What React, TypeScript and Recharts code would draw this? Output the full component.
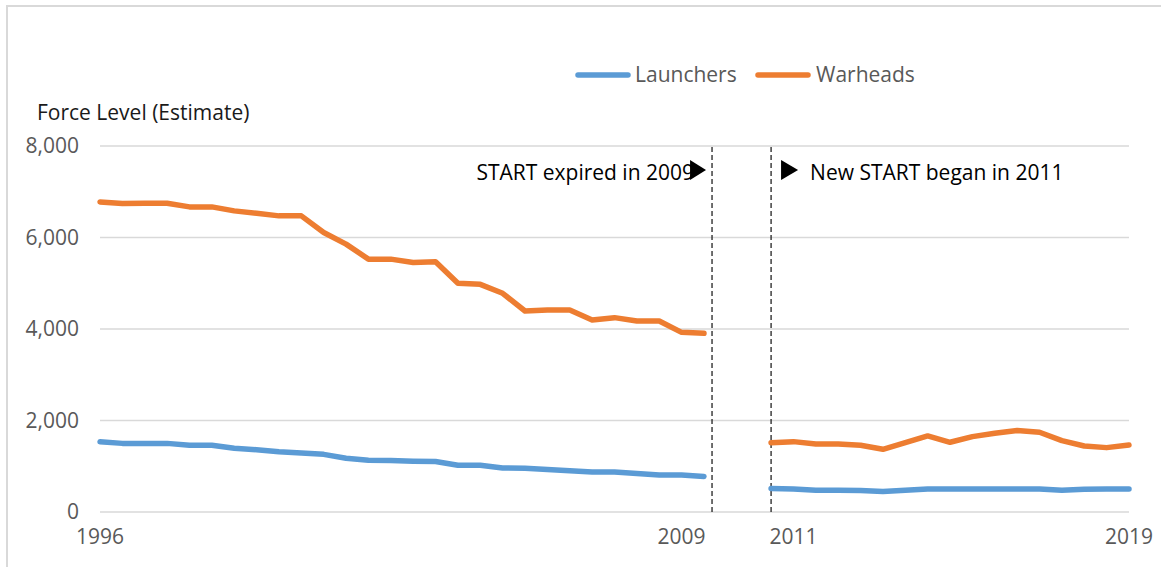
import { LineChart, Line, XAxis, YAxis, CartesianGrid, ReferenceLine } from "recharts"

// half-year observations, 1996 to 2019
const periods = [
  "1996 H1", "1996 H2", "1997 H1", "1997 H2", "1998 H1", "1998 H2", "1999 H1", "1999 H2",
  "2000 H1", "2000 H2", "2001 H1", "2001 H2", "2002 H1", "2002 H2", "2003 H1", "2003 H2",
  "2004 H1", "2004 H2", "2005 H1", "2005 H2", "2006 H1", "2006 H2", "2007 H1", "2007 H2",
  "2008 H1", "2008 H2", "2009 H1", "2009 H2", "2010 H1", "2010 H2", "2011 H1", "2011 H2",
  "2012 H1", "2012 H2", "2013 H1", "2013 H2", "2014 H1", "2014 H2", "2015 H1", "2015 H2",
  "2016 H1", "2016 H2", "2017 H1", "2017 H2", "2018 H1", "2018 H2", "2019 H1",
]

const launchers = [
  1533, 1500, 1500, 1500, 1460, 1460, 1395, 1360, 1315, 1290, 1260, 1175, 1133, 1126,
  1110, 1104, 1022, 1022, 963, 956, 930, 900, 875, 874, 840, 807, 807, 778,
  null, null,
  513, 505, 476, 476, 469, 447, 476, 505, 505, 505, 505, 505, 505, 476, 498, 505, 505,
]

const warheads = [
  6778, 6742, 6749, 6749, 6669, 6669, 6582, 6531, 6473, 6473, 6109, 5855, 5527, 5527,
  5455, 5472, 4998, 4976, 4780, 4393, 4415, 4415, 4197, 4248, 4175, 4175, 3927, 3905,
  null, null,
  1516, 1538, 1487, 1487, 1458, 1370, 1516, 1663, 1524, 1648, 1722, 1780, 1744, 1560, 1443, 1407, 1465,
]

const xTickIdx = [0, 26, 31, 46]
const xTickText = ["1996", "2009", "2011", "2019"]
const yTicks = [0, 2000, 4000, 6000, 8000]

const data = periods.map((p, i) => ({ idx: i, period: p, launchers: launchers[i], warheads: warheads[i] }))

const FONT = "'Open Sans', sans-serif"
const BLUE = "#5B9BD5"
const ORANGE = "#ED7D31"
const GRAY_TXT = "#595959"

const StartExpired = ({ viewBox }: any) => {
  if (!viewBox) return null
  const x = viewBox.x
  const y = viewBox.y
  return (
    <g>
      <text x={x - 18} y={y + 33.5} textAnchor="end" fontFamily={FONT} fontSize={21} fill="#000">
        START expired in 2009
      </text>
      <polygon points={`${x - 22},${y + 14} ${x - 6},${y + 24} ${x - 22},${y + 34}`} fill="#000" />
    </g>
  )
}

const NewStart = ({ viewBox }: any) => {
  if (!viewBox) return null
  const x = viewBox.x
  const y = viewBox.y
  return (
    <g>
      <polygon points={`${x + 10},${y + 14} ${x + 27},${y + 24} ${x + 10},${y + 34}`} fill="#000" />
      <text x={x + 39} y={y + 33.5} fontFamily={FONT} fontSize={21} fill="#000">
        New START began in 2011
      </text>
    </g>
  )
}

export default function App() {
  return (
    <div style={{ position: "fixed", left: 0, top: 0, width: 1161, height: 567, overflow: "hidden", background: "#fff" }}>
      <div style={{ position: "absolute", left: 6, top: 5, width: 1300, height: 700, border: "2px solid #d9d9d9", boxSizing: "border-box" }} />
      <div style={{ position: "absolute", left: 0, top: 0 }}>
        <LineChart width={1161} height={567} data={data} margin={{ top: 146, right: 32, left: 0, bottom: 0 }}>
          <CartesianGrid vertical={false} stroke="#d9d9d9" strokeWidth={1.6} />
          <XAxis
            type="number"
            dataKey="idx"
            domain={[0, 46]}
            ticks={xTickIdx}
            tickFormatter={(v: number) => xTickText[xTickIdx.indexOf(v)] ?? ""}
            axisLine={false}
            tickLine={false}
            height={55}
            tickMargin={11}
            tick={{ fontSize: 21, fill: GRAY_TXT, fontFamily: FONT }}
            interval={0}
          />
          <YAxis
            domain={[0, 8000]}
            ticks={yTicks}
            tickFormatter={(v: number) => v.toLocaleString("en-US")}
            axisLine={false}
            tickLine={false}
            width={100}
            tickMargin={15}
            tick={{ fontSize: 21, fill: GRAY_TXT, fontFamily: FONT }}
            interval={0}
          />
          <ReferenceLine x={27.36} stroke="#222" strokeWidth={1.3} strokeDasharray="5 3" label={<StartExpired />} />
          <ReferenceLine x={30} stroke="#222" strokeWidth={1.3} strokeDasharray="5 3" label={<NewStart />} />
          <Line type="linear" dataKey="launchers" stroke={BLUE} strokeWidth={5.5} dot={false} isAnimationActive={false} strokeLinejoin="round" strokeLinecap="round" />
          <Line type="linear" dataKey="warheads" stroke={ORANGE} strokeWidth={5.5} dot={false} isAnimationActive={false} strokeLinejoin="round" strokeLinecap="round" />
        </LineChart>
      </div>
      <svg width={1161} height={140} style={{ position: "absolute", left: 0, top: 0 }}>
        <line x1={578} y1={75} x2={628} y2={75} stroke={BLUE} strokeWidth={5.5} strokeLinecap="round" />
        <text x={635} y={82} fontFamily={FONT} fontSize={21} fill={GRAY_TXT}>Launchers</text>
        <line x1={758} y1={75} x2={808} y2={75} stroke={ORANGE} strokeWidth={5.5} strokeLinecap="round" />
        <text x={816} y={82} fontFamily={FONT} fontSize={21} fill={GRAY_TXT}>Warheads</text>
        <text x={37} y={120} fontFamily={FONT} fontSize={21} fill="#1a1a1a">Force Level (Estimate)</text>
      </svg>
    </div>
  )
}
